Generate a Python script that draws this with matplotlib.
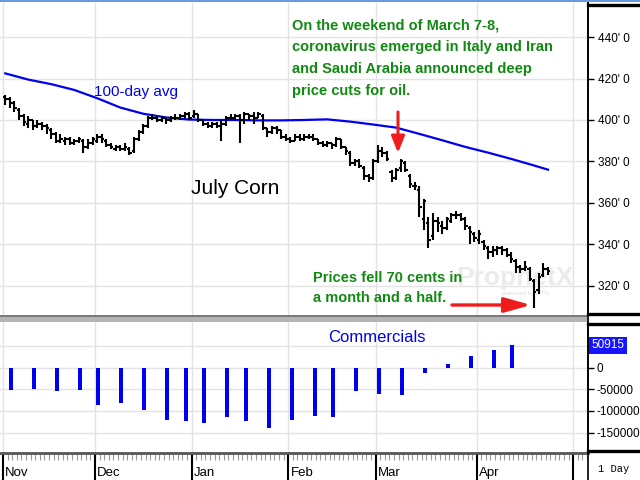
import numpy as np
import pandas as pd
import matplotlib
matplotlib.use('Agg')
import matplotlib.pyplot as plt
from matplotlib.lines import Line2D
from matplotlib.patches import Rectangle

plt.rcParams['font.family'] = ['Liberation Sans', 'DejaVu Sans']

W, H = 640, 480

# trading calendar (CBOT holidays removed)
holidays = pd.to_datetime(['2019-11-28', '2019-12-25', '2020-01-01',
                           '2020-01-20', '2020-02-17', '2020-04-10'])
cal = pd.bdate_range('2019-11-01', '2020-05-08')
cal = cal[~cal.isin(holidays)]
days = cal[cal <= '2020-04-23']

# July corn daily bars, cents/bu
opens = [411, 410, 408, 405, 402, 398, 400, 397, 398, 397,
         395, 393, 390, 390, 391, 389, 390, 390, 387, 389,
         390, 392, 390, 388, 386, 387, 386, 386, 385, 391,
         394, 397, 401, 401, 400, 401, 400, 401, 401, 402,
         403, 402, 403, 400, 398, 397, 398, 397, 398, 401,
         401, 402, 400, 403, 402, 401, 402, 396, 394, 396,
         395, 392, 391, 390, 392, 391, 392, 392, 391, 389,
         388, 389, 388, 391,
         387, 384, 379, 380, 377, 373, 372, 380, 385, 384, 375, 372,
         377, 379, 373, 368, 366, 352, 350, 344, 351, 349, 348,
         351, 354, 354, 352, 348, 345, 342, 341, 338, 336, 337,
         338, 337, 335, 332, 329, 328, 328, 322, 318, 325, 328]
highs = [412, 411, 409, 406, 403, 402, 400, 400, 399, 398,
         396, 394, 393, 392, 392, 391, 392, 391, 391, 392,
         393, 393, 391, 389, 388, 388, 389, 387, 392, 395,
         398, 402, 403, 402, 402, 401, 402, 403, 403, 404,
         404, 405, 403, 400, 399, 399, 399, 400, 402, 403,
         403, 403, 404, 403, 404, 404, 403, 396, 397, 397,
         395, 393, 392, 393, 393, 393, 393, 393, 391, 390,
         390, 389, 392, 391,
         387, 385, 381, 381, 378, 374, 381, 388, 387, 385, 376, 377,
         381, 380, 374, 370, 368, 362, 353, 355, 353, 351, 353,
         355, 356, 355, 353, 349, 346, 347, 342, 339, 339, 339,
         339, 338, 336, 333, 330, 332, 329, 323, 326, 331, 329]
lows = [407, 406, 404, 400, 397, 396, 395, 396, 395, 393,
        391, 389, 389, 388, 388, 388, 389, 384, 386, 388,
        389, 389, 387, 386, 385, 385, 385, 383, 384, 390,
        393, 396, 400, 399, 399, 398, 399, 400, 400, 401,
        400, 401, 399, 397, 396, 396, 396, 390, 397, 400,
        400, 389, 398, 400, 398, 401, 395, 392, 393, 393,
        391, 390, 389, 390, 390, 390, 391, 390, 388, 387,
        387, 386, 387, 386,
        383, 378, 378, 377, 371, 370, 371, 379, 382, 380, 370, 371,
        375, 375, 367, 366, 353, 347, 338, 342, 346, 345, 347,
        350, 352, 351, 347, 340, 341, 340, 337, 333, 334, 335,
        335, 334, 331, 326, 326, 327, 322, 309, 316, 324, 325]
closes = [410, 408, 406, 402, 399, 400, 397, 398, 397, 396,
          393, 390, 391, 391, 389, 390, 391, 387, 389, 391,
          392, 391, 388, 387, 387, 386, 387, 384, 391, 394,
          397, 401, 401, 400, 401, 400, 401, 401, 402, 403,
          401, 403, 400, 398, 397, 398, 397, 398, 401, 401,
          402, 400, 403, 402, 401, 403, 396, 394, 396, 395,
          392, 391, 390, 392, 391, 392, 392, 391, 389, 388,
          389, 388, 391, 387,
          385, 379, 380, 378, 373, 372, 380, 385, 384, 381, 372, 376,
          380, 376, 369, 368, 358, 361, 342, 351, 350, 348, 352,
          354, 354, 352, 349, 346, 343, 345, 339, 336, 337, 338,
          337, 335, 333, 329, 328, 329, 323, 317, 324, 328, 327]

# 100-day moving average, read every 5th session
ma_dates = list(days[::5]) + [days[-1]]
ma_vals = [422.5, 419.5, 417.3, 414.5, 410.5, 406, 403, 401.2, 400.2, 400,
           400, 399.8, 399.8, 400, 400.3, 399.2, 397.8, 396.3, 393.3, 390.2,
           387, 384.2, 381.2, 378, 376]

# commercials net position (COT, Tuesdays)
cot_dates = pd.date_range('2019-11-05', '2020-04-14', freq='7D')
cot_vals = [-53000, -49000, -55000, -51000, -87000, -82000, -98000, -120000,
            -124000, -129000, -115000, -124000, -140000, -122000, -111000,
            -114000, -55000, -62000, -64000, -13000, 7000, 27000, 40000, 50915]

price_ticks = [320, 340, 360, 380, 400, 420, 440]
cot_ticks = [0, -50000, -100000, -150000]
months = ['Nov', 'Dec', 'Jan', 'Feb', 'Mar', 'Apr', 'May']

GREEN = '#118a11'
BLUE = '#0000f0'
RED = '#ee1c1c'
GRID = '#e3e3e3'

x = np.arange(len(days))
ma_x = cal.get_indexer(pd.DatetimeIndex(ma_dates))
cot_x = cal.get_indexer(cot_dates) - 0.75
month_starts = [cal.get_indexer([cal[(cal.year == y) & (cal.month == m)][0]])[0] - 0.5
                for y, m in [(2019, 11), (2019, 12), (2020, 1), (2020, 2),
                             (2020, 3), (2020, 4), (2020, 5)]]
xlim = (-1.15, 126.7)

fig = plt.figure(figsize=(6.4, 4.8), dpi=100)
fig.patch.set_facecolor('white')


def fx(px):
    return px / W


def fy(py):
    return 1 - py / H


ax1 = fig.add_axes([0, fy(315), fx(588), (315 - 3) / H])
ax2 = fig.add_axes([0, fy(453), fx(588), (453 - 322) / H])
ax3 = fig.add_axes([0, 0, fx(588), (480 - 454) / H])

# ---- price panel
ax1.set_xlim(*xlim)
ax1.set_ylim(305.8, 456.5)
for v in price_ticks:
    ax1.axhline(v, color=GRID, lw=1, zorder=0)
for m in month_starts:
    ax1.axvline(m, color=GRID, lw=1, zorder=0)
ax1.vlines(x, lows, highs, color='black', lw=1.5, zorder=3)
ax1.hlines(opens, x - 0.5, x, color='black', lw=1.5, zorder=3)
ax1.hlines(closes, x, x + 0.5, color='black', lw=1.5, zorder=3)
ax1.plot(ma_x, ma_vals, color=BLUE, lw=1.6, zorder=2)

ax1.yaxis.tick_right()
ax1.set_yticks(price_ticks)
ax1.set_yticklabels([f"{v}' 0" for v in price_ticks])
ax1.tick_params(axis='y', direction='out', length=4, width=1, pad=3, labelsize=8.5)
ax1.tick_params(axis='x', bottom=False, labelbottom=False)
for s in ['top', 'left', 'bottom']:
    ax1.spines[s].set_visible(False)
ax1.spines['right'].set_linewidth(1.2)

# watermark
ax1.text(456 / 588, (315 - 285) / 312, 'ProphetX', transform=ax1.transAxes,
         fontsize=19, fontweight='bold', color='#ebebeb', zorder=1)
ax1.text(502 / 588, (315 - 295) / 312, 'powered by DTN', transform=ax1.transAxes,
         fontsize=4.5, color='#dedede', zorder=1)

ax1.text(94 / 588, (315 - 92) / 312, '100-day avg', transform=ax1.transAxes,
         fontsize=11, color=BLUE, va='center', ha='left')
ax1.text(191 / 588, (315 - 189) / 312, 'July Corn', transform=ax1.transAxes,
         fontsize=15, color='black', va='center', ha='left')

note = ['On the weekend of March 7-8,',
        'coronavirus emerged in Italy and Iran',
        'and Saudi Arabia announced deep',
        'price cuts for oil.']
for k, line in enumerate(note):
    ax1.text(292 / 588, (315 - (29 + 22 * k)) / 312, line, transform=ax1.transAxes,
             fontsize=10.5, fontweight='bold', color=GREEN, va='baseline', ha='left')
for k, line in enumerate(['Prices fell 70 cents in', 'a month and a half.']):
    ax1.text(313 / 588, (315 - (282 + 20 * k)) / 312, line, transform=ax1.transAxes,
             fontsize=10.5, fontweight='bold', color=GREEN, va='baseline', ha='left',
             zorder=4)

ax1.annotate('', xy=(398 / 588, (315 - 153) / 312), xytext=(398 / 588, (315 - 112) / 312),
             xycoords='axes fraction',
             arrowprops=dict(arrowstyle='-|>,head_width=0.4,head_length=1.0',
                             color=RED, lw=2.2, shrinkA=0, shrinkB=0))
ax1.annotate('', xy=(531 / 588, (315 - 305) / 312), xytext=(452 / 588, (315 - 305) / 312),
             xycoords='axes fraction',
             arrowprops=dict(arrowstyle='-|>,head_width=0.45,head_length=1.6',
                             color=RED, lw=2.4, shrinkA=0, shrinkB=0))

# ---- commercials panel
ax2.set_xlim(*xlim)
ax2.set_ylim(-197300, 105000)
for v in [50000] + cot_ticks:
    ax2.axhline(v, color=GRID, lw=1, zorder=0)
for m in month_starts:
    ax2.axvline(m, color=GRID, lw=1, zorder=0)
ax2.bar(cot_x, cot_vals, width=0.85, color=BLUE, zorder=3)
ax2.yaxis.tick_right()
ax2.set_yticks(cot_ticks)
ax2.set_yticklabels([str(v) for v in cot_ticks])
ax2.tick_params(axis='y', direction='out', length=4, width=1, pad=2, labelsize=8.5)
ax2.tick_params(axis='x', bottom=False, labelbottom=False)
for s in ['top', 'left', 'bottom']:
    ax2.spines[s].set_visible(False)
ax2.spines['right'].set_linewidth(1.2)
ax2.text(1.006, cot_vals[-1], f'{cot_vals[-1]}', transform=ax2.get_yaxis_transform(),
         fontsize=8.5, color='white', va='center', ha='left',
         bbox=dict(boxstyle='square,pad=0.2', fc='#1414ff', ec='none'))
ax2.text(328 / 588, (453 - 338) / 131, 'Commercials', transform=ax2.transAxes,
         fontsize=12, color=BLUE, va='center', ha='left')

# ---- date strip
ax3.set_xlim(*xlim)
ax3.set_ylim(0, 1)
ax3.axis('off')
ax3.vlines(np.arange(len(cal)) - 0.5, 0.78, 1, color='#9a9a9a', lw=0.8)
ax3.vlines(month_starts, 0, 1, color='black', lw=1.5)
for m, lab in zip(month_starts[:-1], months[:-1]):
    ax3.text(m + 0.5, 0.14, lab, fontsize=9.5, va='baseline', ha='left')
fig.text(fx(598), fy(472), '1 Day', fontsize=7.5, family='Liberation Mono',
         va='baseline', ha='left')

# ---- frames and separators
def hline(py, x0, x1, lw, color):
    fig.add_artist(Line2D([fx(x0), fx(x1)], [fy(py), fy(py)], lw=lw, color=color,
                          transform=fig.transFigure))


fig.add_artist(Rectangle((0, fy(322)), fx(588), (322 - 315) / H, transform=fig.transFigure,
                         fc='#b4b4b4', ec='none'))
hline(315.5, 0, 588, 1.2, '#707070')
hline(453, 0, 588, 2, '#555555')
hline(0.6, 0, 640, 1.2, '#4a86d6')
fig.add_artist(Line2D([fx(588), fx(588)], [fy(3), 0], lw=1.2, color='black',
                      transform=fig.transFigure))
for py in [4.5, 314, 323.5, 451]:
    hline(py, 588, 640, 2.4, 'black')

fig.savefig('out.png', dpi=100)
